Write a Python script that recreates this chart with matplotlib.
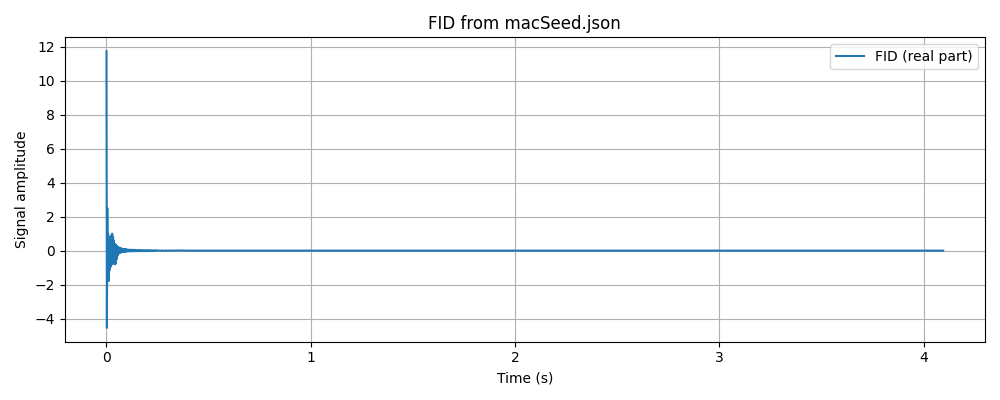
import matplotlib
matplotlib.use("Agg")
import matplotlib.pyplot as plt

# Time axis (s) and real part of the FID
time_s = [
    0.000, 0.002, 0.004, 0.006, 0.008, 0.010, 0.012, 0.014, 0.016, 0.018,
    0.020, 0.022, 0.024, 0.026, 0.028, 0.030, 0.032, 0.034, 0.036, 0.038,
    0.040, 0.042, 0.044, 0.046, 0.048, 0.050, 0.052, 0.054, 0.056, 0.058,
    0.060, 0.062, 0.064, 0.066, 0.068, 0.070, 0.072, 0.074, 0.076, 0.078,
    0.080, 0.082, 0.084, 0.086, 0.088, 0.090, 0.092, 0.094, 0.096, 0.098,
    0.100, 0.105, 0.110, 0.115, 0.120, 0.125, 0.130, 0.135, 0.140, 0.145,
    0.150, 0.155, 0.160, 0.165, 0.170, 0.175, 0.180, 0.185, 0.190, 0.195,
    0.200, 0.205, 0.210, 0.215, 0.220, 0.225, 0.230, 0.235, 0.240, 0.245,
    0.250, 0.260, 0.270, 0.280, 0.290, 0.300, 0.310, 0.320, 0.330, 0.340,
    0.350, 0.400, 0.500, 0.700, 1.000, 1.500, 2.000, 2.500, 3.000, 3.500,
    4.000, 4.096,
]
fid_real = [
    11.75, -4.55, 2.50, -1.60, 1.00, -1.80, 0.80, -1.20, 0.70, -1.00,
    0.60, -0.90, 0.90, -0.60, 1.00, -0.80, 0.80, -0.50, 0.60, -0.70,
    0.40, -0.80, 0.35, -0.75, 0.30, -0.50, 0.25, -0.30, 0.20, -0.20,
    0.20, -0.15, 0.15, -0.12, 0.15, -0.10, 0.12, -0.10, 0.12, -0.08,
    0.10, -0.08, 0.10, -0.07, 0.09, -0.06, 0.08, -0.06, 0.08, -0.05,
    0.07, -0.05, 0.06, -0.05, 0.06, -0.04, 0.05, -0.04, 0.05, -0.04,
    0.04, -0.03, 0.04, -0.03, 0.04, -0.03, 0.03, -0.03, 0.03, -0.02,
    0.03, -0.02, 0.03, -0.02, 0.02, -0.02, 0.02, -0.02, 0.02, -0.01,
    0.02, -0.01, 0.01, -0.01, 0.01, -0.01, 0.01, -0.01, 0.01, 0.00,
    0.01, 0.00, 0.00, 0.00, 0.00, 0.00, 0.00, 0.00, 0.00, 0.00,
    0.00, 0.00,
]

fig, ax = plt.subplots(figsize=(10, 4), dpi=100)
ax.plot(time_s, fid_real, color="#1f77b4", linewidth=1.5, label="FID (real part)")
ax.set_title("FID from macSeed.json")
ax.set_xlabel("Time (s)")
ax.set_ylabel("Signal amplitude")
ax.grid(True)
ax.legend(loc="upper right")
fig.tight_layout()
fig.savefig("out.png", dpi=100)
